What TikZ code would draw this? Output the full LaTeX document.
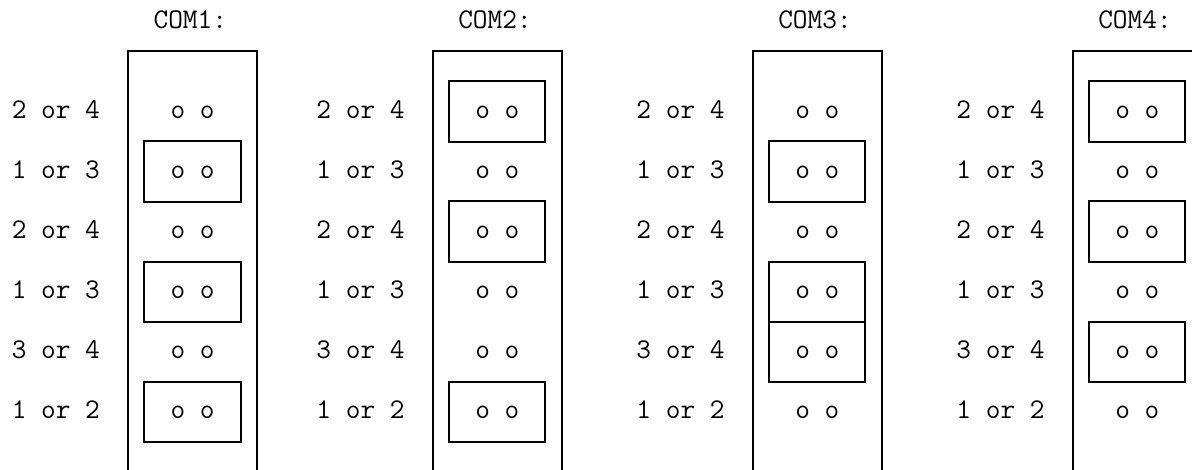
\documentclass[tikz,border=0pt]{standalone}
\usepackage{fontspec}
\newcommand\jmpbox[2]{%
  \draw[jumper] ({#1+128.7},{110.7+60.1*(#2-1)-29.5}) rectangle ({#1+225.3},{110.7+60.1*(#2-1)+31});}
\begin{document}
\begin{tikzpicture}[x=1pt,y=-1pt,
  txt/.style={font=\fontsize{28.5}{30}\selectfont\ttfamily, inner sep=0pt, anchor=base},
  frame/.style={line width=2pt},
  jumper/.style={line width=2pt}]
\useasboundingbox (0,0) rectangle (1192,469);
\clip (0,0) rectangle (1192,469);
\foreach \gx [count=\gi] in {15.3,320,640,960} {
  \node[txt] (com\gi) at (\gx+175,28.3) {COM\gi:};
  \draw[frame] (\gx+112.5,475) -- (\gx+112.5,50.6) -- (\gx+241.5,50.6) -- (\gx+241.5,475);
  \foreach \lab [count=\r] in {2 or 4,1 or 3,2 or 4,1 or 3,3 or 4,1 or 2} {
    \pgfmathsetmacro\by{110.7+60.1*(\r-1)+7.7}
    \node[txt] (l\gi-\r) at (\gx+40.5,\by) {\lab};
    \node[txt] (p\gi-\r) at (\gx+177.35,\by) {o o};
  }
}
\jmpbox{15.3}{2}\jmpbox{15.3}{4}\jmpbox{15.3}{6}
\jmpbox{320}{1}\jmpbox{320}{3}\jmpbox{320}{6}
\jmpbox{640}{2}\jmpbox{640}{4}\jmpbox{640}{5}
\jmpbox{960}{1}\jmpbox{960}{3}\jmpbox{960}{5}
\end{tikzpicture}
\end{document}
